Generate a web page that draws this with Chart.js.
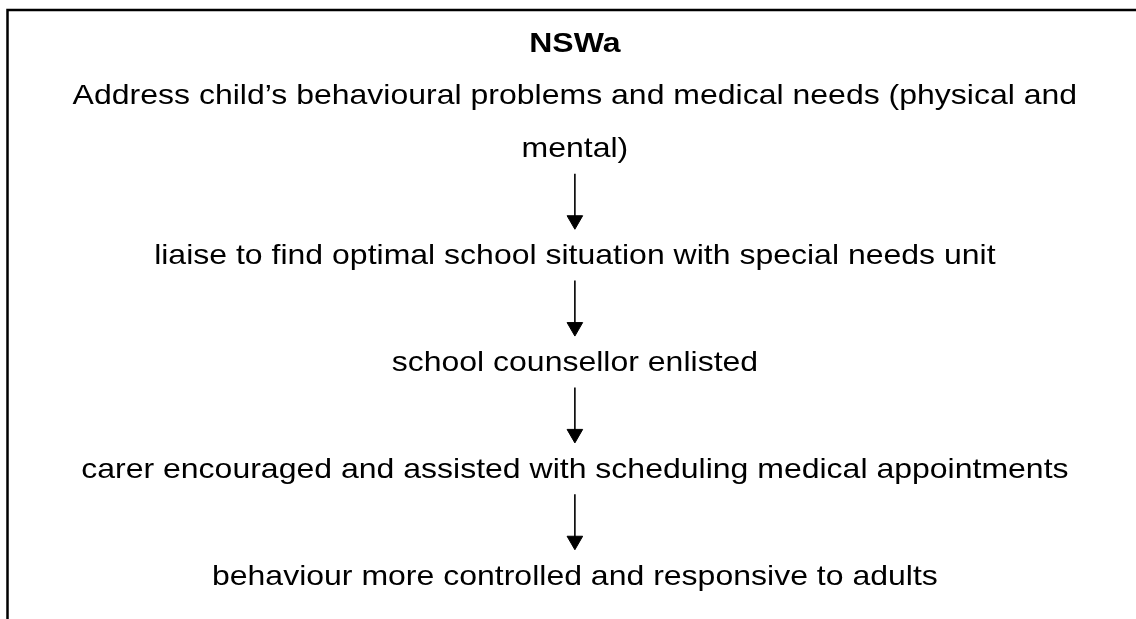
<!DOCTYPE html>
<html>
<head>
<meta charset="utf-8">
<script src="https://cdn.jsdelivr.net/npm/chart.js@4.4.0/dist/chart.umd.min.js"></script>
<style>
  html, body { margin:0; padding:0; background:#fff; }
  #flow { display:block; }
</style>
</head>
<body>
<canvas id="flow" width="1136" height="619"></canvas>
<script>
// flowchart content
const title = 'NSWa'
const steps = [
	['Address child’s behavioural problems and medical needs (physical and', 'mental)'],
	['liaise to find optimal school situation with special needs unit'],
	['school counsellor enlisted'],
	['carer encouraged and assisted with scheduling medical appointments'],
	['behaviour more controlled and responsive to adults'],
]

// each text line gets a row on the y scale: title at 0, wrapped lines one row apart, steps two rows apart
let textRows = [{text: title, row: 0, bold: true}]
let stepRows = []
let row = 1
for (let lines of steps) {
	let first = row
	for (let line of lines) {
		textRows.push({text: line, row: row, bold: false})
		row++
	}
	stepRows.push({first: first, last: row - 1})
	row++
}

// one arrow between every pair of consecutive steps
let arrowSets = []
for (let i = 0; i < stepRows.length - 1; i++) {
	arrowSets.push({
		data: [{x: 0, y: stepRows[i].last + 0.45}, {x: 0, y: stepRows[i + 1].first - 0.68}],
		showLine: true,
		borderColor: '#000',
		borderWidth: 1.6,
		pointRadius: [0, 9],
		pointStyle: 'triangle',
		rotation: 180,
		pointBackgroundColor: '#000',
		pointBorderColor: '#000',
		pointBorderWidth: 1,
	})
}

const frame = {
	id: 'frame',
	beforeDraw(chart) {
		const ctx = chart.ctx
		ctx.save()
		ctx.fillStyle = '#fff'
		ctx.fillRect(0, 0, chart.width, chart.height)
		ctx.strokeStyle = '#000'
		ctx.lineWidth = 2.5
		ctx.beginPath()
		ctx.moveTo(7.5, chart.height + 5)
		ctx.lineTo(7.5, 10)
		ctx.lineTo(chart.width + 5, 10)
		ctx.stroke()
		ctx.restore()
	}
}

const labels = {
	id: 'labels',
	afterDatasetsDraw(chart) {
		const ctx = chart.ctx
		const xs = chart.scales.x, ys = chart.scales.y
		const cx = xs.getPixelForValue(0)
		ctx.save()
		ctx.fillStyle = '#000'
		ctx.textAlign = 'center'
		ctx.textBaseline = 'alphabetic'
		for (let t of textRows) {
			let py = ys.getPixelForValue(t.row)
			ctx.font = (t.bold ? 'bold ' : '') + '28px "Liberation Sans", Arial, sans-serif'
			ctx.save()
			ctx.translate(cx, py + (t.bold ? 9 : 7.5))
			ctx.scale(1.143, 1)
			ctx.fillText(t.text, 0, 0)
			ctx.restore()
		}
		ctx.restore()
	}
}

new Chart(document.getElementById('flow'), {
	type: 'scatter',
	data: {datasets: arrowSets},
	options: {
		responsive: false,
		animation: false,
		devicePixelRatio: 1,
		layout: {padding: 0},
		plugins: {legend: {display: false}, tooltip: {enabled: false}},
		scales: {
			x: {display: false, min: -575, max: 561},
			y: {display: false, reverse: true, min: -0.616, max: 10.598},
		},
	},
	plugins: [frame, labels],
})
</script>
</body>
</html>
